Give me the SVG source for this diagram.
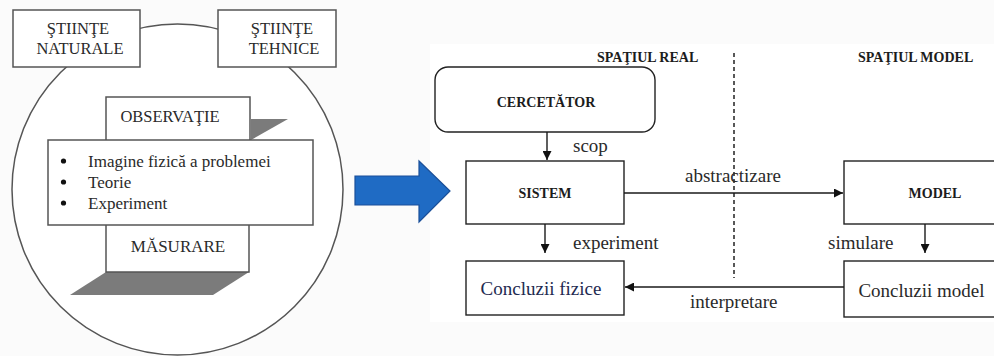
<svg xmlns="http://www.w3.org/2000/svg" width="994" height="356" viewBox="0 0 994 356">
<defs>
<style>
.bg{fill:#fbfbfb}
.lbox{fill:#fff;stroke:#555;stroke-width:1.5}
.rbox{fill:#fff;stroke:#222;stroke-width:1.4}
.shadow{fill:#7b7b7b}
.t{font-family:"Liberation Serif","Times New Roman",serif;fill:#2a2a2a}
.h{font-size:16.5px;text-anchor:middle}
.li{font-size:17px}
.b{font-family:"Liberation Serif","Times New Roman",serif;font-weight:bold;font-size:14px;fill:#1c1c1c}
.lab{font-size:19px}
.conn{stroke:#1a1a1a;stroke-width:1.4;fill:none}
</style>
<marker id="ah" viewBox="0 0 10 10" refX="10" refY="5" markerWidth="9" markerHeight="9" markerUnits="userSpaceOnUse" orient="auto">
<path d="M0,0 L10,5 L0,10 z" fill="#111"/>
</marker>
</defs>
<rect class="bg" x="0" y="0" width="994" height="356"/>
<rect x="430" y="44" width="564" height="278" fill="#fff"/>

<g id="left-panel">
<circle cx="177.5" cy="189.5" r="165.5" fill="#fff" stroke="#555" stroke-width="1.5"/>
<g id="stiinte-naturale">
<rect class="lbox" x="13" y="10" width="127" height="57"/>
<text class="t h" x="78" y="33.5">ŞTIINŢE</text>
<text class="t h" x="80" y="53.5">NATURALE</text>
</g>
<g id="stiinte-tehnice">
<rect class="lbox" x="218" y="10" width="118" height="57"/>
<text class="t h" x="282" y="33.5">ŞTIINŢE</text>
<text class="t h" x="284" y="53.5">TEHNICE</text>
</g>
<g id="observatie">
<polygon class="shadow" points="251,119 288,119 251,140"/>
<rect class="lbox" x="106" y="97" width="144" height="50"/>
<text class="t h" x="170" y="121.5">OBSERVAŢIE</text>
</g>
<g id="masurare">
<polygon class="shadow" points="106,272 249,272 213,295 70,295"/>
<rect class="lbox" x="106" y="215" width="143" height="57"/>
<text class="t h" x="178" y="251.5" style="font-size:17px">MĂSURARE</text>
</g>
<g id="lista">
<rect class="lbox" x="48" y="140" width="265" height="85"/>
<circle cx="63.5" cy="161" r="2.6" fill="#111"/>
<circle cx="63.5" cy="182" r="2.6" fill="#111"/>
<circle cx="63.5" cy="203" r="2.6" fill="#111"/>
<text class="t li" x="88" y="166.5">Imagine fizică a problemei</text>
<text class="t li" x="88" y="187.5">Teorie</text>
<text class="t li" x="88" y="208.5">Experiment</text>
</g>
</g>

<g id="blue-arrow">
<polygon points="355,176 419,176 419,161 450,191 419,222 419,205 355,205" fill="#1f6bc4" stroke="#1a4f99" stroke-width="1.2"/>
</g>

<g id="headers">
<text class="b" x="597" y="61.5">SPAŢIUL REAL</text>
<text class="b" x="858" y="61.5">SPAŢIUL MODEL</text>
</g>

<g id="cercetator">
<rect class="rbox" x="435" y="67" width="220" height="65" rx="13"/>
<text class="b" x="546" y="107" text-anchor="middle">CERCETĂTOR</text>
</g>
<g id="sistem">
<rect class="rbox" x="466" y="161" width="158" height="63"/>
<text class="b" x="545" y="198" text-anchor="middle">SISTEM</text>
</g>
<g id="model">
<rect class="rbox" x="844" y="161" width="160" height="63"/>
<text class="b" x="935" y="198" text-anchor="middle">MODEL</text>
</g>
<g id="concluzii-fizice">
<rect class="rbox" x="466" y="261" width="158" height="54"/>
<text class="t lab" x="541" y="295" text-anchor="middle" style="fill:#1e2a50">Concluzii fizice</text>
</g>
<g id="concluzii-model">
<rect class="rbox" x="844" y="261" width="160" height="56"/>
<text class="t lab" x="921.5" y="296.5" text-anchor="middle">Concluzii model</text>
</g>

<g id="connectors">
<line x1="734" y1="53" x2="734" y2="278" stroke="#222" stroke-width="1.5" stroke-dasharray="4 3"/>
<line class="conn" x1="547" y1="132" x2="547" y2="160" marker-end="url(#ah)"/>
<line class="conn" x1="624" y1="193" x2="843" y2="193" marker-end="url(#ah)"/>
<line class="conn" x1="545" y1="224" x2="545" y2="253" marker-end="url(#ah)"/>
<line class="conn" x1="925" y1="224" x2="925" y2="253" marker-end="url(#ah)"/>
<line class="conn" x1="844" y1="287" x2="625" y2="287" marker-end="url(#ah)"/>
<text class="t lab" x="573" y="151.5">scop</text>
<text class="t lab" x="685" y="181.5">abstractizare</text>
<text class="t lab" x="573" y="249">experiment</text>
<text class="t lab" x="828" y="248.5">simulare</text>
<text class="t lab" x="690" y="308">interpretare</text>
</g>
</svg>
